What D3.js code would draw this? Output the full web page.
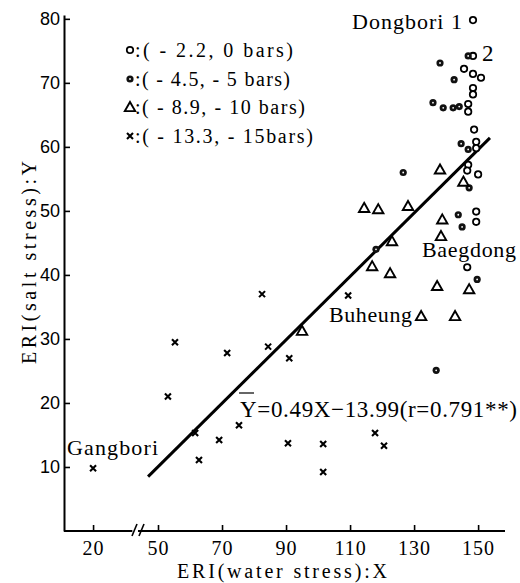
<!DOCTYPE html>
<html><head><meta charset="utf-8">
<script src="https://cdn.jsdelivr.net/npm/d3@7"></script>
<style>body{margin:0;background:#fff}svg{display:block}</style>
</head><body><svg id="c" width="520" height="583"></svg>
<script>
// ---- data ----
const xTicks = [20, 50, 70, 90, 110, 130, 150];
const yTicks = [10, 20, 30, 40, 50, 60, 70, 80];

// (-2.2, 0 bars) open circles
const s0X = [148.4,148.4,145.6,148.4,150.9,148.4,148.4,146.9,146.9,148.75,149.4,149.4,146.9,146.6,150.0,149.4,149.4,146.6];
const s0Y = [79.8,74.2,72.2,71.4,70.8,69.2,68.2,66.7,65.5,62.7,60.8,59.8,57.2,56.3,55.7,49.9,48.3,41.2];
// (-4.5, -5 bars) filled circles
const s1X = [146.9,138.1,142.5,135.9,139.1,142.2,144.1,144.7,146.9,147.2,143.8,145.0,149.7,136.9,126.6,118.1];
const s1Y = [74.2,73.1,70.5,66.9,66.1,66.1,66.3,60.5,59.6,53.6,49.4,47.5,39.3,25.1,56.0,44.0];
// (-8.9, -10 bars) triangles
const s2X = [138.1,114.4,118.8,128.1,138.8,138.4,123.1,116.9,122.5,137.2,147.2,145.4,132.2,142.8,95.0];
const s2Y = [56.4,50.4,50.2,50.7,48.6,46.0,45.2,41.3,40.2,38.2,37.7,54.5,33.5,33.5,31.2];
// (-13.3, -15 bars) crosses
const s3X = [20,55.3,53.1,82.5,71.6,84.4,91.0,109.4,61.6,69.1,75.3,62.8,90.6,101.6,101.6,117.8,120.6];
const s3Y = [9.8,29.5,21.0,37.0,27.8,28.8,27.0,36.8,15.3,14.2,16.5,11.1,13.7,13.6,9.2,15.3,13.3];

const legendLabels = [":( - 2.2, 0 bars)", ":( - 4.5, - 5 bars)", ":( - 8.9, - 10 bars)", ":( - 13.3, - 15bars)"];
const lineX = [46.9, 153.7];
const lineY = [8.5, 61.4];
const equation = "Y=0.49X\u221213.99(r=0.791**)";

// ---- scales ----
const svg = d3.select("#c");
const x = d3.scaleLinear().domain([10.9, 32.5, 46, 158.4]).range([64, 133, 145.2, 505]);
const y = d3.scaleLinear().domain([0, 80.6]).range([531, 15]);
const serif = "'Liberation Serif','Times New Roman',serif";

// ---- axes ----
const gx = svg.append("g").attr("transform", "translate(0,531)")
  .call(d3.axisBottom(x).tickValues(xTicks).tickSizeInner(-6).tickSizeOuter(0).tickPadding(10));
gx.select(".domain").remove();
gx.selectAll(".tick line").attr("stroke", "#000").attr("stroke-width", 1.6);
gx.selectAll(".tick text").attr("font-family", serif).attr("font-size", 20).attr("fill", "#000").attr("letter-spacing", 1);
gx.append("line").attr("x1", x(10.9)).attr("x2", x(32.3)).attr("stroke", "#000").attr("stroke-width", 2);
gx.append("line").attr("x1", x(38)).attr("x2", x(158.4)).attr("stroke", "#000").attr("stroke-width", 2);
[[132, 137], [139, 144]].forEach(([a, b]) => {
  gx.append("line").attr("x1", a).attr("y1", 5).attr("x2", b).attr("y2", -7).attr("stroke", "#000").attr("stroke-width", 1.6);
});

const gy = svg.append("g").attr("transform", "translate(64,0)")
  .call(d3.axisLeft(y).tickValues(yTicks).tickSizeInner(-6).tickSizeOuter(0).tickPadding(4));
gy.select(".domain").attr("stroke", "#000").attr("stroke-width", 2);
gy.selectAll(".tick line").attr("stroke", "#000").attr("stroke-width", 1.6);
gy.selectAll(".tick text").attr("font-family", "'Liberation Sans',Arial,sans-serif").attr("font-size", 18).attr("fill", "#000");

// axis titles
svg.append("text").attr("x", 177).attr("y", 578).attr("font-family", serif).attr("font-size", 20)
  .attr("textLength", 210).attr("lengthAdjust", "spacing").text("ERI(water stress):X");
svg.append("text").attr("transform", "translate(36,364) rotate(-90)").attr("font-family", serif).attr("font-size", 20)
  .attr("textLength", 203).attr("lengthAdjust", "spacing").text("ERI(salt stress):Y");

// ---- symbols ----
function drawOpen(g) { g.append("circle").attr("r", 3.2).attr("fill", "#fff").attr("stroke", "#000").attr("stroke-width", 1.8); }
function drawFilled(g) {
  g.append("circle").attr("r", 3.6).attr("fill", "#111");
  g.append("circle").attr("r", 0.9).attr("fill", "#fff");
}
const triPath = "M0,-5.5L5.2,3.6L-5.2,3.6Z";
function drawTri(g) { g.append("path").attr("d", triPath).attr("fill", "#fff").attr("stroke", "#000").attr("stroke-width", 1.9).attr("stroke-linejoin", "miter"); }
function drawX(g) { g.append("path").attr("d", "M-3,-3L3,3M-3,3L3,-3").attr("stroke", "#000").attr("stroke-width", 2.1); }

const drawers = [drawOpen, drawFilled, drawTri, drawX];
const series = [[s0X, s0Y], [s1X, s1Y], [s2X, s2Y], [s3X, s3Y]];

// regression line
svg.append("line").attr("x1", x(lineX[0])).attr("y1", y(lineY[0])).attr("x2", x(lineX[1])).attr("y2", y(lineY[1]))
  .attr("stroke", "#000").attr("stroke-width", 3);

series.forEach(([xs, ys], i) => {
  const pts = xs.map((v, j) => [v, ys[j]]);
  svg.append("g").selectAll("g").data(pts).join("g")
    .attr("transform", d => `translate(${x(d[0])},${y(d[1])})`)
    .each(function () { drawers[i](d3.select(this)); });
});

// ---- legend ----
const legRows = [50, 79, 107.5, 136];
const legLens = [158, 155, 170, 178];
legendLabels.forEach((t, i) => {
  const g = svg.append("g").attr("transform", `translate(130,${legRows[i]})`);
  drawers[i](g);
  g.append("text").attr("x", 5).attr("y", 6.5).attr("font-family", serif).attr("font-size", 20)
    .attr("textLength", legLens[i]).attr("lengthAdjust", "spacing").text(t);
});

// ---- annotations ----
const ann = [
  ["Dongbori 1", 352, 29, 110],
  ["Baegdong", 422, 257, 94],
  ["Buheung", 329, 322, 83],
  ["Gangbori", 67, 455, 91]
];
ann.forEach(([t, ax, ay, len]) => {
  svg.append("text").attr("x", ax).attr("y", ay).attr("font-family", serif).attr("font-size", 22)
    .attr("textLength", len).attr("lengthAdjust", "spacing").text(t);
});
svg.append("text").attr("x", 482).attr("y", 61).attr("font-family", serif).attr("font-size", 23).text("2");
svg.append("text").attr("x", 240).attr("y", 417).attr("font-family", serif).attr("font-size", 23)
  .attr("textLength", 277).attr("lengthAdjust", "spacing").text(equation);
svg.append("line").attr("x1", 239).attr("x2", 254).attr("y1", 393).attr("y2", 393).attr("stroke", "#000").attr("stroke-width", 1.2);
</script></body></html>
